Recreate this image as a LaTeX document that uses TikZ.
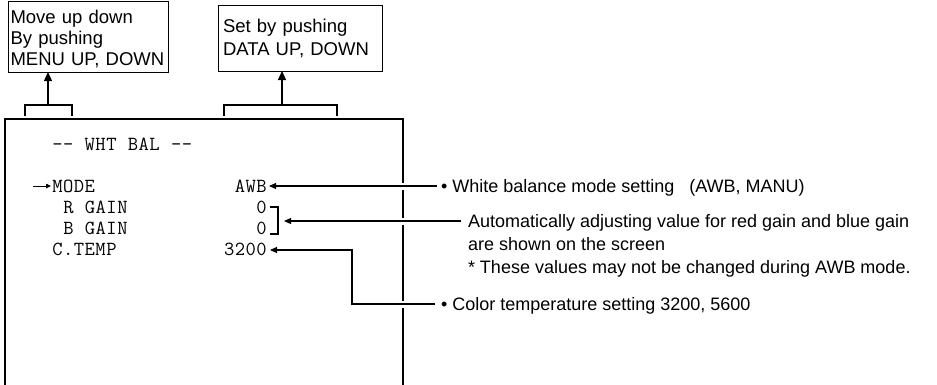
\documentclass[tikz,border=0pt]{standalone}
\usepackage{fontspec}
\setmainfont{Liberation Sans}
\usetikzlibrary{arrows.meta}
% fixed-pitch cells for the screen text (Courier-like pitch)
\newcommand\mchar[1]{\makebox[10.8pt][c]{#1}}
\def\monoend{}
\def\mono#1{\monoloop#1\monoend}
\def\monoloop#1{\ifx#1\monoend\else\mchar{#1}\expandafter\monoloop\fi}
\begin{document}
\begin{tikzpicture}[x=1pt,y=-1pt,
  every node/.style={inner sep=0pt, outer sep=0pt},
  note/.style={font=\fontsize{18}{23}\selectfont, anchor=base west},
  scr/.style={font=\ttfamily\fontsize{20}{21}\selectfont, anchor=base west},
  val/.style={font=\ttfamily\fontsize{20}{21}\selectfont, anchor=base east},
  conn/.style={line width=1.2pt},
  tipL/.style={-{Triangle[length=7pt,width=6pt]}},
  tipS/.style={-{Triangle[length=5pt,width=4.5pt]}},
  tipU/.style={-{Triangle[length=9pt,width=8pt]}},
  halo/.style={white, line width=7pt},
  infobox/.style={draw, line width=0.9pt, anchor=north west, align=left},
  screen/.style={line width=2.2pt}
]
\useasboundingbox (0,0) rectangle (937,384);

% info boxes
\node[infobox, inner xsep=2.5pt, minimum width=160pt, minimum height=71pt, text width=155pt,
  font=\fontsize{18.5}{21}\selectfont]
  (b1) at (8,1) {\rule{0pt}{19pt}Move up down\\By pushing\\MENU UP, DOWN};
\node[infobox, inner xsep=5pt, minimum width=164pt, minimum height=66pt, text width=154pt,
  font=\fontsize{18.5}{23}\selectfont]
  (b2) at (218,5) {\rule{0pt}{15pt}Set by pushing\\DATA UP, DOWN};

% brackets and up arrows
\draw[conn] (25,116) -- (25,105) -- (72,105) -- (72,116);
\coordinate (k1) at (48,105);
\draw[conn, tipU] (k1) -- (k1 |- b1.south);
\draw[conn] (224,116) -- (224,105) -- (337,105) -- (337,116);
\coordinate (k2) at (282,105);
\draw[conn, tipU] (k2) -- (k2 |- b2.south);

% screen
\draw[screen] (5,386) -- (5,119) -- (403,119) -- (403,386);

% screen text
\node[scr] (title) at (52,150) {\mono{--~WHT~BAL~--}};
\node[scr] (mode) at (52,192) {\mono{MODE}};
\node[scr] (rg) at (63,213) {\mono{R~GAIN}};
\node[scr] (bg) at (63,234) {\mono{B~GAIN}};
\node[scr] (ct) at (52,255) {\mono{C.TEMP}};
\node[val] (awb) at (267,192) {\mono{AWB}};
\node[val] (r0) at (267,213) {\mono{0}};
\node[val] (b0) at (267,234) {\mono{0}};
\node[val] (t3200) at (267,255) {\mono{3200}};
\draw[line width=0.8pt, tipS] ([shift={(-19,-6)}]mode.base west) -- ([shift={(-1,-6)}]mode.base west);

% notes
\node[note] (nwb) at (441,192) {• White balance mode setting\ \ \ (AWB, MANU)};
\node[note] (ng1) at (468,227) {Automatically adjusting value for red gain and blue gain};
\node[note] (ng2) at (468,250) {are shown on the screen};
\node[note] (ng3) at (468,273) {* These values may not be changed during AWB mode.};
\node[note] (nct) at (441,310) {• Color temperature setting 3200, 5600};

% connectors
\draw[halo] (398,186) -- (408,186);
\draw[conn, tipL] ([shift={(-4,-6)}]nwb.base west) -- ([shift={(2,-6)}]awb.base east);

\draw[conn] ([shift={(3,-6)}]r0.base east) -| ([shift={(11,0)}]b0.base east) -- ([shift={(3,0)}]b0.base east);
\draw[halo] (398,221) -- (408,221);
\draw[conn, tipL] ([shift={(-7,-6)}]ng1.base west) -- ([shift={(17,8)}]r0.base east);

\draw[halo] (398,304) -- (408,304);
\coordinate (ck) at (352,304);
\draw[conn, tipL] ([shift={(-6,-6)}]nct.base west) -- (ck) |- ([shift={(3,-5)}]t3200.base east);
\end{tikzpicture}
\end{document}
